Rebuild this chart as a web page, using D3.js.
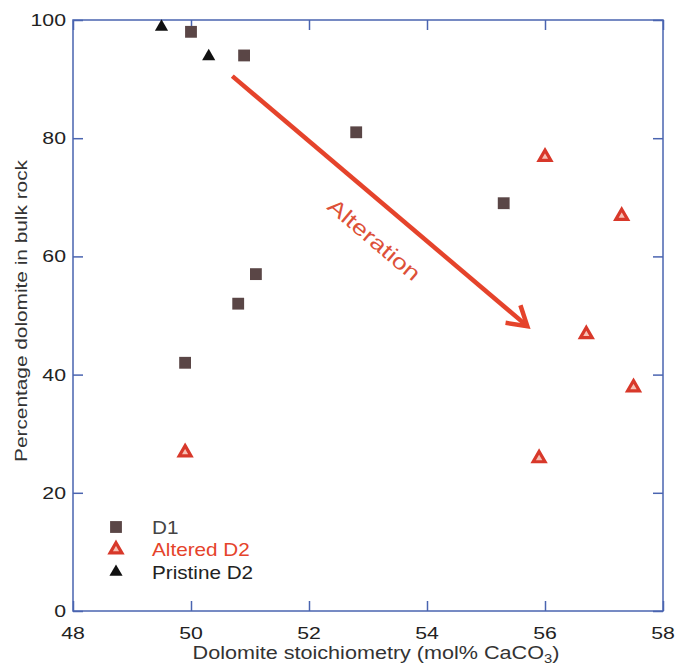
<!DOCTYPE html>
<html>
<head>
<meta charset="utf-8">
<script src="https://cdn.jsdelivr.net/npm/d3@7"></script>
<style>
  body { margin: 0; background: #fff; }
  svg { display: block; font-family: "Liberation Sans", Arial, sans-serif; }
</style>
</head>
<body>
<div id="chart"></div>
<script>
// data
var d1X = [50.0, 50.9, 52.8, 55.3, 51.1, 50.8, 49.9];
var d1Y = [98, 94, 81, 69, 57, 52, 42];
var alteredX = [56.0, 57.3, 56.7, 57.5, 55.9, 49.9];
var alteredY = [77, 67, 47, 38, 26, 27];
var pristineX = [49.5, 50.3];
var pristineY = [99, 94];
var xTicks = [48, 50, 52, 54, 56, 58];
var yTicks = [0, 20, 40, 60, 80, 100];
var legendLabels = ['D1', 'Altered D2', 'Pristine D2'];
var arrowFrom = [50.7, 90.5];
var arrowTo = [55.7, 48.2];

var width = 678, height = 671;
var margin = {top: 20, right: 15, bottom: 60, left: 73};
var frameBlue = '#4a64b0';
var red = '#e5432b';
var brown = '#5a4646';
var stretch = 1.25; // the original figure's lettering is wider than it is tall

var svg = d3.select('#chart').append('svg')
    .attr('width', width)
    .attr('height', height);

var x = d3.scaleLinear().domain([48, 58]).range([margin.left, width - margin.right]);
var y = d3.scaleLinear().domain([0, 100]).range([height - margin.bottom, margin.top]);

var sym = d3.symbol();
function tri(size) { return sym.type(d3.symbolTriangle).size(size)(); }
function sq(size) { return sym.type(d3.symbolSquare).size(size)(); }

// frame
svg.append('rect')
    .attr('x', x(48)).attr('y', y(100))
    .attr('width', x(58) - x(48)).attr('height', y(0) - y(100))
    .attr('fill', 'none').attr('stroke', frameBlue).attr('stroke-width', 1.5);

// inward ticks on all four sides
var tl = 10;
function noDomain(g) { g.select('.domain').remove(); }
svg.append('g').attr('transform', 'translate(0,' + y(0) + ')')
    .call(d3.axisTop(x).tickValues(xTicks).tickSize(tl).tickFormat('')).call(noDomain);
svg.append('g').attr('transform', 'translate(0,' + y(100) + ')')
    .call(d3.axisBottom(x).tickValues(xTicks).tickSize(tl).tickFormat('')).call(noDomain);
svg.append('g').attr('transform', 'translate(' + x(48) + ',0)')
    .call(d3.axisRight(y).tickValues(yTicks).tickSize(tl).tickFormat('')).call(noDomain);
svg.append('g').attr('transform', 'translate(' + x(58) + ',0)')
    .call(d3.axisLeft(y).tickValues(yTicks).tickSize(tl).tickFormat('')).call(noDomain);
svg.selectAll('.tick line').attr('stroke', frameBlue).attr('stroke-width', 1.5);

// tick labels
svg.append('g').selectAll('text').data(xTicks).join('text')
    .attr('transform', function(d) { return 'translate(' + x(d) + ',' + (y(0) + 28) + ') scale(' + stretch + ',1)'; })
    .attr('text-anchor', 'middle')
    .attr('font-size', 17).attr('fill', '#222')
    .text(function(d) { return d; });
svg.append('g').selectAll('text').data(yTicks).join('text')
    .attr('transform', function(d) { return 'translate(' + (x(48) - 7) + ',' + (y(d) + 6) + ') scale(' + stretch + ',1)'; })
    .attr('text-anchor', 'end')
    .attr('font-size', 17).attr('fill', '#222')
    .text(function(d) { return d; });

// axis titles
var xt = svg.append('text')
    .attr('text-anchor', 'middle')
    .attr('font-size', 17.5).attr('fill', '#333');
xt.append('tspan').text('Dolomite stoichiometry (mol% CaCO');
xt.append('tspan').attr('font-size', 12).attr('dy', 4).text('3');
xt.append('tspan').attr('dy', -4).text(')');
var xw = xt.node().getBBox().width;
xt.attr('transform', 'translate(376,659) scale(' + (367 / xw) + ',1)');

svg.append('text')
    .attr('transform', 'translate(27,311) rotate(-90)')
    .attr('text-anchor', 'middle')
    .attr('font-size', 17).attr('fill', '#333')
    .attr('textLength', 302).attr('lengthAdjust', 'spacingAndGlyphs')
    .text('Percentage dolomite in bulk rock');

// arrow
var ax1 = x(arrowFrom[0]), ay1 = y(arrowFrom[1]);
var ax2 = x(arrowTo[0]), ay2 = y(arrowTo[1]);
var ang = Math.atan2(ay2 - ay1, ax2 - ax1);
var head = 22, spread = 0.55;
svg.append('line')
    .attr('x1', ax1).attr('y1', ay1).attr('x2', ax2).attr('y2', ay2)
    .attr('stroke', red).attr('stroke-width', 4.5);
svg.append('path')
    .attr('d', d3.line()([
        [ax2 - head * Math.cos(ang - spread), ay2 - head * Math.sin(ang - spread)],
        [ax2, ay2],
        [ax2 - head * Math.cos(ang + spread), ay2 - head * Math.sin(ang + spread)]
    ]))
    .attr('fill', 'none').attr('stroke', red).attr('stroke-width', 4.5)
    .attr('stroke-linejoin', 'miter');
svg.append('text')
    .attr('transform', 'translate(' + x(53.1) + ',' + y(62.8) + ') rotate(' + (ang * 180 / Math.PI) + ')')
    .attr('text-anchor', 'middle').attr('dy', 7)
    .attr('font-size', 21).attr('fill', '#dd5038')
    .attr('textLength', 114).attr('lengthAdjust', 'spacingAndGlyphs')
    .text('Alteration');

// points
svg.append('g').selectAll('path').data(d1X).join('path')
    .attr('transform', function(d, i) { return 'translate(' + x(d) + ',' + y(d1Y[i]) + ')'; })
    .attr('d', sq(140)).attr('fill', brown);
svg.append('g').selectAll('path').data(alteredX).join('path')
    .attr('transform', function(d, i) { return 'translate(' + x(d) + ',' + (y(alteredY[i]) + 1) + ')'; })
    .attr('d', tri(60)).attr('fill', '#f7c0b4').attr('stroke', '#d8382a').attr('stroke-width', 3.2)
    .attr('stroke-linejoin', 'miter');
svg.append('g').selectAll('path').data(pristineX).join('path')
    .attr('transform', function(d, i) { return 'translate(' + x(d) + ',' + (y(pristineY[i]) + 1) + ')'; })
    .attr('d', tri(75)).attr('fill', '#111');

// legend
var legColors = ['#444', '#e5432b', '#222'];
var leg = svg.append('g').selectAll('g').data(legendLabels).join('g')
    .attr('transform', function(d, i) { return 'translate(116,' + (527 + i * 22.5) + ')'; });
leg.append('path')
    .attr('d', function(d, i) { return i === 0 ? sq(140) : (i === 1 ? tri(60) : tri(75)); })
    .attr('fill', function(d, i) { return i === 0 ? brown : (i === 1 ? '#f7c0b4' : '#111'); })
    .attr('stroke', function(d, i) { return i === 1 ? '#d8382a' : 'none'; })
    .attr('stroke-width', 3.2);
leg.append('text')
    .attr('transform', 'translate(36,6.5) scale(1.15,1)')
    .attr('font-size', 18)
    .attr('fill', function(d, i) { return legColors[i]; })
    .text(function(d) { return d; });
</script>
</body>
</html>
